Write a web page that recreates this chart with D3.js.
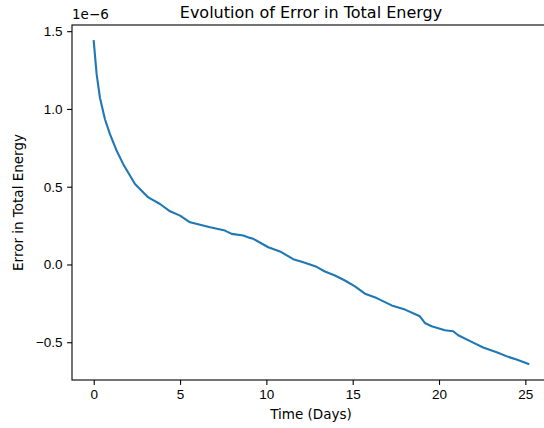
<!DOCTYPE html>
<html>
<head>
<meta charset="utf-8">
<script src="https://cdn.jsdelivr.net/npm/d3@7"></script>
<style>
  body { margin: 0; background: #fff; }
  svg { display: block; font-family: "DejaVu Sans", sans-serif; }
  .axis text { font-size: 13.5px; fill: #000; }
  .axis path, .axis line { stroke: #000; stroke-width: 1.1; }
</style>
</head>
<body>
<svg id="chart" width="544" height="428"></svg>
<script>
"use strict";

// time in days
const days = [
  0, 0.17, 0.36, 0.65, 0.94, 1.33, 1.71, 2.39, 3.16, 3.84, 4.42, 5.0,
  5.58, 6.74, 7.6, 7.99, 8.66, 9.05, 9.24, 10.11, 10.79, 11.56, 12.14,
  12.91, 13.39, 13.97, 14.55, 15.13, 15.71, 16.39, 17.26, 18.03, 18.89,
  19.18, 19.57, 20.34, 20.82, 21.11, 21.89, 22.56, 23.34, 24.01, 24.49,
  25.17,
];

// energy error, in units of 1e-6
const errors = [
  1.436, 1.222, 1.072, 0.934, 0.838, 0.731, 0.645, 0.517, 0.431, 0.389,
  0.342, 0.314, 0.271, 0.239, 0.218, 0.197, 0.186, 0.171, 0.165, 0.111,
  0.084, 0.034, 0.015, -0.015, -0.045, -0.071, -0.103, -0.141, -0.188,
  -0.216, -0.263, -0.29, -0.333, -0.376, -0.397, -0.423, -0.429, -0.455,
  -0.498, -0.534, -0.564, -0.594, -0.611, -0.639,
];

const xTicks = [0, 5, 10, 15, 20, 25];
const yTicks = [-0.5, 0.0, 0.5, 1.0, 1.5];

const svg = d3.select("#chart");
const plot = { left: 72, top: 25, right: 550, bottom: 380 };

const data = days.map((d, i) => ({ t: d, e: errors[i] }));

// matplotlib-like 5% margins
function padded(ext) {
  const r = ext[1] - ext[0];
  return [ext[0] - 0.05 * r, ext[1] + 0.05 * r];
}

const x = d3.scaleLinear()
  .domain(padded(d3.extent(days)))
  .range([plot.left, plot.right]);
const y = d3.scaleLinear()
  .domain(padded(d3.extent(errors)))
  .range([plot.bottom, plot.top]);

const line = d3.line().x((d) => x(d.t)).y((d) => y(d.e));

svg.append("path")
  .datum(data)
  .attr("fill", "none")
  .attr("stroke", "#1f77b4")
  .attr("stroke-width", 2.1)
  .attr("stroke-linejoin", "round")
  .attr("stroke-linecap", "square")
  .attr("d", line);

// frame
svg.append("rect")
  .attr("x", plot.left)
  .attr("y", plot.top)
  .attr("width", plot.right - plot.left)
  .attr("height", plot.bottom - plot.top)
  .attr("fill", "none")
  .attr("stroke", "#000")
  .attr("stroke-width", 1.1);

const xAxis = d3.axisBottom(x)
  .tickValues(xTicks)
  .tickSize(4.9)
  .tickPadding(4.5)
  .tickFormat(d3.format("d"));
svg.append("g")
  .attr("class", "axis")
  .attr("transform", `translate(0,${plot.bottom})`)
  .call(xAxis)
  .call((g) => g.select(".domain").remove());

const yAxis = d3.axisLeft(y)
  .tickValues(yTicks)
  .tickSize(4.9)
  .tickPadding(4.5)
  .tickFormat((d) => d3.format(".1f")(d).replace("-", "\u2212"));
svg.append("g")
  .attr("class", "axis")
  .attr("transform", `translate(${plot.left},0)`)
  .call(yAxis)
  .call((g) => g.select(".domain").remove());

// offset text
svg.append("text")
  .attr("x", plot.left)
  .attr("y", plot.top - 6)
  .attr("font-size", 13.5)
  .text("1e\u22126");

svg.append("text")
  .attr("x", (plot.left + plot.right) / 2)
  .attr("y", 18)
  .attr("text-anchor", "middle")
  .attr("font-size", 16)
  .text("Evolution of Error in Total Energy");

svg.append("text")
  .attr("x", (plot.left + plot.right) / 2)
  .attr("y", 419)
  .attr("text-anchor", "middle")
  .attr("font-size", 13.5)
  .text("Time (Days)");

svg.append("text")
  .attr("transform", `translate(23,${(plot.top + plot.bottom) / 2}) rotate(-90)`)
  .attr("text-anchor", "middle")
  .attr("font-size", 13.5)
  .text("Error in Total Energy");
</script>
</body>
</html>
